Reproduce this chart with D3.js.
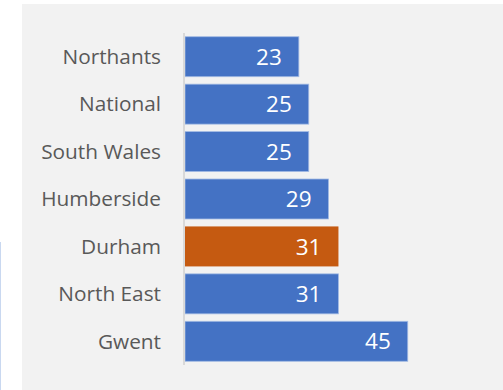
<!DOCTYPE html>
<html>
<head>
<meta charset="utf-8">
<script src="https://cdn.jsdelivr.net/npm/d3@7"></script>
<style>
  html, body { margin: 0; padding: 0; background: #fff; }
  svg { display: block; }
</style>
</head>
<body>
<div id="chart"></div>
<script>
// Data
var categories = ["Northants", "National", "South Wales", "Humberside", "Durham", "North East", "Gwent"];
var values = [23, 25, 25, 29, 31, 31, 45];
var highlight = ["Durham"];

var width = 503, height = 390;

var svg = d3.select('#chart')
    .append('svg')
    .attr('width', width)
    .attr('height', height);

// Chart area background
svg.append('rect')
    .attr('x', 22).attr('y', 4)
    .attr('width', width - 22).attr('height', height - 4)
    .attr('fill', '#f2f2f2');

// thin pale line at far left
svg.append('line')
    .attr('x1', 0.5).attr('x2', 0.5)
    .attr('y1', 242).attr('y2', height)
    .attr('stroke', '#c9d8f0').attr('stroke-width', 1);

var x0 = 185;
var x = d3.scaleLinear()
    .domain([0, 50])
    .range([x0, x0 + 247.5]);

var y = d3.scaleBand()
    .domain(categories)
    .range([33, 365])
    .paddingInner(0.157)
    .paddingOuter(0.0785);

var data = categories.map(function(c, i){ return {name: c, value: values[i]}; });

// Bars
svg.append('g')
    .selectAll('rect')
    .data(data)
    .enter()
    .append('rect')
    .attr('x', x(0))
    .attr('y', function(d){ return y(d.name); })
    .attr('width', function(d){ return x(d.value) - x(0); })
    .attr('height', y.bandwidth())
    .attr('fill', function(d){
        return highlight.indexOf(d.name) >= 0 ? '#c55a11' : '#4472c4';
    })
    .attr('stroke', function(d){
        return highlight.indexOf(d.name) >= 0 ? 'none' : '#a3bbe4';
    })
    .attr('stroke-width', 0.8);

// Vertical axis line
svg.append('line')
    .attr('x1', x0 - 1).attr('x2', x0 - 1)
    .attr('y1', 33).attr('y2', 365)
    .attr('stroke', '#d9d9d9').attr('stroke-width', 2);

// Category labels
svg.append('g')
    .selectAll('text')
    .data(data)
    .enter()
    .append('text')
    .attr('x', 161)
    .attr('y', function(d){ return y(d.name) + y.bandwidth() / 2; })
    .attr('dy', '0.35em')
    .attr('text-anchor', 'end')
    .attr('font-family', '"Open Sans", sans-serif')
    .attr('font-size', 20.8)
    .attr('fill', '#595959')
    .text(function(d){ return d.name; });

// Value labels
svg.append('g')
    .selectAll('text')
    .data(data)
    .enter()
    .append('text')
    .attr('x', function(d){ return x(d.value) - 17; })
    .attr('y', function(d){ return y(d.name) + y.bandwidth() / 2; })
    .attr('dy', '0.36em')
    .attr('text-anchor', 'end')
    .attr('font-family', '"Open Sans", sans-serif')
    .attr('font-size', 22.5)
    .attr('fill', '#ffffff')
    .text(function(d){ return d.value; });
</script>
</body>
</html>
